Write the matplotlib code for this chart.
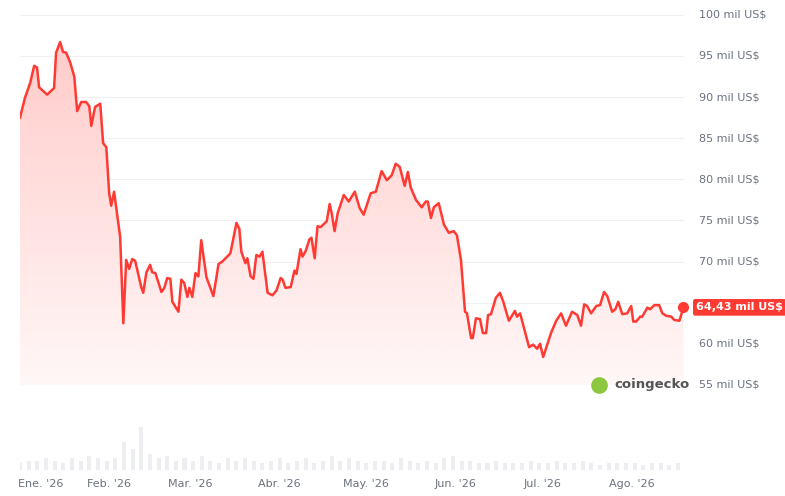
import numpy as np
import matplotlib
matplotlib.use("Agg")
from matplotlib import pyplot as plt
from matplotlib.patches import Polygon

# price path: day offset from 1 Jan 2026, price in thousands of US$
days = [0, 1.7, 3.5, 4.9, 5.9, 6.6, 9.4, 11.8, 12.5, 13.9, 14.9, 16.0, 17.4, 18.8, 19.8, 21.2, 22.9, 24.0,
        24.7, 26.0, 27.8, 28.8, 29.9, 30.9, 31.6, 32.6, 34.7, 35.8, 36.8, 37.8, 38.9, 39.9, 42.0, 42.7, 43.8,
        45.1, 45.8, 46.9, 49.0, 50.0, 51.0, 52.1, 52.8, 54.9, 55.9, 56.9, 58.0, 58.7, 59.7, 60.8, 61.8, 62.8,
        64.6, 67.0, 68.8, 70.1, 72.9, 75.0, 76.0, 76.7, 78.1, 78.8, 79.9, 80.9, 81.9, 83.0, 84.0, 85.8, 87.5,
        88.9, 90.3, 91.0, 92.0, 93.8, 95.1, 95.8, 97.2, 97.9, 99.0, 100.3, 101.0, 102.1, 103.1, 104.2, 106.3,
        107.3, 108.0, 109.0, 110.1, 112.2, 113.9, 116.0, 117.7, 119.1, 121.5, 123.3, 125.3, 127.1, 128.8,
        130.2, 131.6, 133.3, 134.4, 135.4, 137.2, 139.2, 140.6, 141.3, 142.4, 143.4, 145.1, 146.9, 148.6,
        150.3, 151.4, 152.8, 154.2, 154.9, 156.3, 156.9, 158.0, 159.4, 160.4, 161.5, 162.2, 163.2, 164.9,
        166.3, 167.4, 169.4, 171.5, 172.2, 173.3, 176.4, 177.8, 179.2, 180.2, 181.3, 184.0, 185.8, 187.5,
        189.2, 191.3, 193.1, 194.4, 195.5, 196.5, 197.9, 199.7, 201.0, 202.4, 203.5, 205.2, 206.3, 207.3,
        208.7, 210.4, 211.8, 212.5, 213.5, 214.9, 215.6, 217.4, 218.4, 219.8, 221.5, 222.6, 224.0, 225.7,
        226.7, 228.5, 229.9]
prices = [87.5, 89.9, 91.7, 93.8, 93.6, 91.2, 90.3, 91.1, 95.4, 96.7, 95.5, 95.4, 94.2, 92.5, 88.3, 89.4, 89.4, 88.9,
          86.5, 88.8, 89.2, 84.4, 83.9, 78.3, 76.8, 78.5, 73.0, 62.5, 70.2, 69.1, 70.3, 70.1, 66.9, 66.2, 68.7,
          69.6, 68.7, 68.6, 66.3, 66.8, 68.0, 67.9, 65.1, 63.9, 67.8, 67.4, 65.7, 66.8, 65.7, 68.6, 68.2, 72.6,
          68.1, 65.8, 69.7, 70.0, 71.0, 74.7, 74.0, 71.2, 69.8, 70.4, 68.2, 67.9, 70.8, 70.6, 71.2, 66.2, 65.9,
          66.5, 68.0, 67.8, 66.8, 66.9, 68.9, 68.5, 71.5, 70.6, 71.3, 72.7, 72.9, 70.4, 74.3, 74.2, 74.9,
          77.0, 75.9, 73.7, 75.9, 78.1, 77.3, 78.5, 76.5, 75.7, 78.3, 78.5, 81.0, 79.9, 80.5,
          81.9, 81.5, 79.2, 80.9, 79.0, 77.5, 76.6, 77.3, 77.3, 75.3, 76.6, 77.1, 74.5, 73.5,
          73.7, 73.2, 70.2, 63.9, 63.7, 60.7, 60.7, 63.1, 63.0, 61.3, 61.3, 63.5, 63.6, 65.6,
          66.2, 65.2, 62.8, 64.0, 63.3, 63.7, 59.6, 59.9, 59.4, 60.0, 58.4, 61.3, 62.8, 63.7,
          62.2, 63.9, 63.5, 62.2, 64.8, 64.6, 63.7, 64.6, 64.7, 66.3, 65.8, 63.9, 64.2, 65.1,
          63.6, 63.7, 64.6, 62.7, 62.7, 63.3, 63.3, 64.4, 64.2, 64.7, 64.7, 63.7, 63.4, 63.3,
          62.9, 62.8, 64.43]

# volume, one bar every 3 days (relative units)
vol_days = list(range(0, 231, 3))
volumes = [3, 4, 4, 5, 4, 3, 5, 4, 6, 5, 4, 5, 12, 9, 18, 7, 5, 6, 4, 5, 4, 6, 4, 3, 5, 4,
           5, 4, 3, 4, 5, 3, 4, 5, 3, 4, 6, 4, 5, 4, 3, 4, 4, 3, 5, 4, 3, 4, 3, 5, 6, 4,
           4, 3, 3, 4, 3, 3, 3, 4, 3, 3, 4, 3, 3, 4, 3, 2, 3, 3, 3, 3, 2, 3, 3, 2, 3]

# 65 is hidden behind the last-price badge in the reference
yticks = [55, 60, 70, 75, 80, 85, 90, 95, 100]
grid_levels = [55, 60, 65, 70, 75, 80, 85, 90, 95, 100]
month_days = [7, 31, 59, 90, 120, 151, 181, 212]
month_labels = ["Ene. '26", "Feb. '26", "Mar. '26", "Abr. '26", "May. '26", "Jun. '26", "Jul. '26", "Ago. '26"]

RED = "#ff3a33"
GREY = "#6b7280"

fig = plt.figure(figsize=(7.85, 4.96), dpi=100)
ax = fig.add_axes([0.0255, 0.224, 0.8455, 0.746])
ax.set_xlim(0, 230)
ax.set_ylim(55, 100)

# gradient fill clipped to area under the line
grad = np.linspace(0.04, 0.26, 256).reshape(-1, 1)
cmap = matplotlib.colors.LinearSegmentedColormap.from_list("g", ["#ffffff", RED])
im = ax.imshow(grad, cmap=cmap, vmin=0, vmax=1, aspect="auto", origin="lower",
               extent=[0, 230, 55, max(prices)], zorder=1)
poly = Polygon(list(zip(days, prices)) + [(days[-1], 55), (days[0], 55)], closed=True,
               facecolor="none", edgecolor="none")
ax.add_patch(poly)
im.set_clip_path(poly)

ax.plot(days, prices, color=RED, lw=1.8, zorder=3)
ax.plot(days[-1], prices[-1], "o", color=RED, ms=7, zorder=4, clip_on=False)

for y in grid_levels:
    ax.axhline(y, color="#eef0f3", lw=0.8, zorder=0)
for y in yticks:
    ax.text(1.023, (y - 55) / 45, f"{y} mil US$", transform=ax.transAxes, ha="left",
            va="center", fontsize=8, color=GREY, zorder=2)
ax.text(1.019, (prices[-1] - 55) / 45, "64,43 mil US$", transform=ax.transAxes, ha="left",
        va="center", fontsize=8, color="white", fontweight="bold", zorder=10,
        bbox=dict(boxstyle="round,pad=0.3,rounding_size=0.2", fc=RED, ec="none"))
ax.text(0.895, 0.0, "coingecko", transform=ax.transAxes, ha="left", va="center",
        fontsize=9.5, color="#555555", fontweight="bold")
ax.plot([0.872], [0.0], "o", transform=ax.transAxes, ms=11, color="#8dc63f", zorder=5, clip_on=False)
ax.axis("off")

vax = fig.add_axes([0.0255, 0.052, 0.8455, 0.091])
vax.bar(vol_days, volumes, width=1.4, color="#eceef1")
vax.set_xlim(0, 230)
vax.set_ylim(0, 19)
vax.axis("off")
vax.axhline(0, color="#e5e7eb", lw=0.8)
for d, lab in zip(month_days, month_labels):
    vax.text(d, -0.3, lab, transform=vax.get_xaxis_transform(), ha="center", va="center",
             fontsize=8, color=GREY)

fig.savefig("out.png", dpi=100)
